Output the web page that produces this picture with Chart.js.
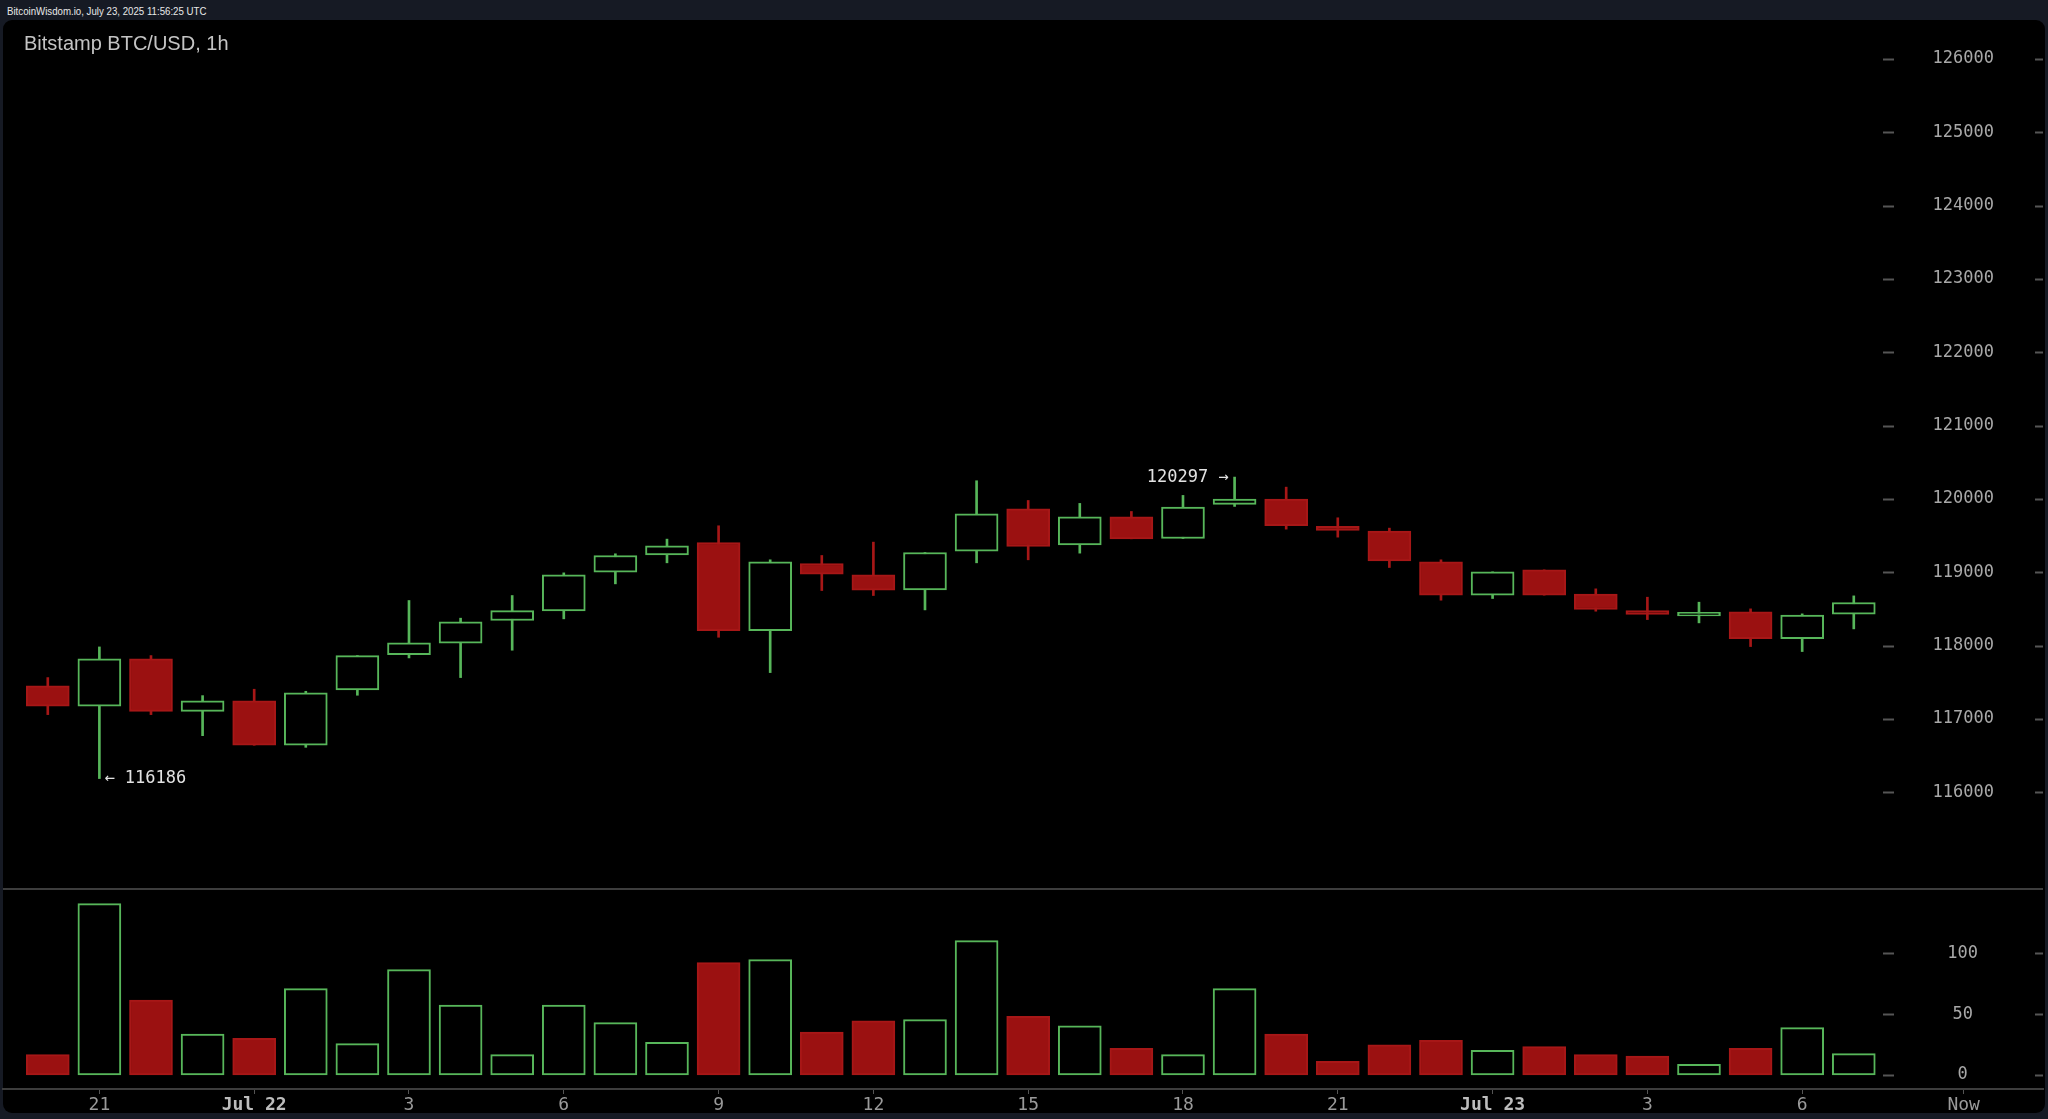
<!DOCTYPE html>
<html>
<head>
<meta charset="utf-8">
<script src="https://cdn.jsdelivr.net/npm/chart.js@4.4.1/dist/chart.umd.min.js"></script>
<style>
  html, body { margin: 0; padding: 0; }
  body { width: 2048px; height: 1119px; overflow: hidden; background: #161a24; position: relative; }
  #topbar { position: absolute; left: 7px; top: 4px; font: 11px "Liberation Sans", Arial, sans-serif; color: #e8e8e8; line-height: 15px; transform: scaleX(0.88); transform-origin: 0 0; white-space: nowrap; }
  #panel { position: absolute; left: 3px; top: 20px; width: 2042px; height: 1093px; background: #000; border-radius: 9px; }
  #title { position: absolute; left: 24px; top: 32px; font: 20px "Liberation Sans", Arial, sans-serif; color: #c4c4c4; line-height: 22px; }
  #c { position: absolute; left: 0; top: 0; }
</style>
</head>
<body>
<div id="topbar">BitcoinWisdom.io, July 23, 2025 11:56:25 UTC</div>
<div id="panel"></div>
<canvas id="c" width="2048" height="1119"></canvas>
<div id="title">Bitstamp BTC/USD, 1h</div>
<script>
// hourly candles, Jul 21 20:00 -> Jul 23 07:00
const opens  = [117449, 117172, 117818, 117103, 117245, 116640, 117395, 117877, 118031, 118341, 118473, 119000,
                119237, 119405, 118204, 119119, 118964, 118759, 119287, 119865, 119373, 119756, 119460, 119924,
                119997, 119624, 119560, 119141, 118687, 119032, 118700, 118477, 118404, 118459, 118095, 118427];
const highs  = [117563, 117981, 117863, 117317, 117404, 117376, 117863, 118614, 118373, 118682, 118991, 119251,
                119451, 119633, 119169, 119228, 119410, 119269, 120247, 119978, 119938, 119828, 120047, 120297,
                120160, 119742, 119601, 119169, 119005, 119032, 118773, 118659, 118591, 118500, 118432, 118677];
const lows   = [117058, 116186, 117058, 116771, 116640, 116612, 117322, 117831, 117563, 117936, 118364, 118841,
                119128, 118113, 117631, 118750, 118682, 118486, 119128, 119169, 119260, 119455, 119460, 119897,
                119587, 119478, 119064, 118618, 118641, 118687, 118468, 118354, 118309, 117986, 117918, 118227];
const closes = [117172, 117818, 117103, 117245, 116640, 117354, 117863, 118036, 118323, 118477, 118964, 119228,
                119360, 118204, 119141, 118973, 118755, 119269, 119797, 119351, 119756, 119455, 119887, 119997,
                119633, 119569, 119155, 118687, 119005, 118687, 118491, 118423, 118454, 118095, 118414, 118587];
const volumes = [16.7, 140.8, 61.6, 33.7, 30.1, 71, 25.8, 86.6, 57.5, 16.7, 57.5, 43,
                 26.8, 92.3, 94.8, 35.3, 44.4, 45.5, 110.4, 48.2, 40.3, 21.9, 16.7, 71,
                 33.7, 11.2, 24.7, 28.5, 20.3, 23.3, 16.7, 15.6, 8.8, 21.9, 38.9, 17.5];

const xTickPos    = [1, 4, 7, 10, 13, 16, 19, 22, 25, 28, 31, 34, 37.13];
const xTickLabels = ['21', 'Jul 22', '3', '6', '9', '12', '15', '18', '21', 'Jul 23', '3', '6', 'Now'];
const priceTicks  = [116000, 117000, 118000, 119000, 120000, 121000, 122000, 123000, 124000, 125000, 126000];
const volumeTicks = [0, 50, 100];

const GREEN = '#57b65a';
const RED = '#9b1111';
const RED_EDGE = '#a71717';
const MONO = '"DejaVu Sans Mono", monospace';

const isUp = i => closes[i] >= opens[i];

const decor = {
  id: 'decor',
  afterDatasetsDraw(chart) {
    const {ctx, chartArea} = chart;
    const sx = chart.scales.x, sy = chart.scales.y, sv = chart.scales.yv;
    ctx.save();
    // price / volume separator
    ctx.strokeStyle = '#3d3d3d';
    ctx.lineWidth = 2;
    ctx.beginPath();
    ctx.moveTo(chartArea.left, sv.top);
    ctx.lineTo(chartArea.right, sv.top);
    ctx.stroke();
    // small tick dashes beside the value labels
    ctx.strokeStyle = '#555';
    ctx.lineWidth = 2;
    [sy, sv].forEach(s => s.ticks.forEach(t => {
      const py = Math.round(s.getPixelForValue(t.value)) + 0.5;
      ctx.beginPath();
      ctx.moveTo(chartArea.right - 160, py); ctx.lineTo(chartArea.right - 149, py);
      ctx.moveTo(chartArea.right - 8, py); ctx.lineTo(chartArea.right, py);
      ctx.stroke();
    }));
    // lowest low / highest high markers
    let iLo = 0, iHi = 0;
    lows.forEach((v, i) => { if (v < lows[iLo]) iLo = i; });
    highs.forEach((v, i) => { if (v > highs[iHi]) iHi = i; });
    ctx.fillStyle = '#e2e2e2';
    ctx.font = '17px ' + MONO;
    ctx.textBaseline = 'middle';
    ctx.textAlign = 'left';
    ctx.fillText('\u2190 ' + lows[iLo], sx.getPixelForValue(iLo) + 5, sy.getPixelForValue(lows[iLo]));
    ctx.textAlign = 'right';
    ctx.fillText(highs[iHi] + ' \u2192', sx.getPixelForValue(iHi) - 6, sy.getPixelForValue(highs[iHi]));
    ctx.restore();
  }
};

const candleFill = c => isUp(c.dataIndex) ? '#000' : RED;
const candleEdge = c => isUp(c.dataIndex) ? GREEN : RED_EDGE;
const wickColor = c => isUp(c.dataIndex) ? GREEN : RED_EDGE;

new Chart(document.getElementById('c'), {
  type: 'bar',
  data: {
    datasets: [
      {
        label: 'body',
        yAxisID: 'y',
        order: 0,
        data: opens.map((o, i) => ({x: i, y: [o, closes[i]]})),
        backgroundColor: candleFill,
        borderColor: candleEdge,
        borderWidth: 2,
        borderSkipped: false,
        barThickness: 43,
        grouped: false
      },
      {
        label: 'wick',
        yAxisID: 'y',
        order: 1,
        data: lows.map((l, i) => ({x: i, y: [l, highs[i]]})),
        backgroundColor: wickColor,
        borderWidth: 0,
        barThickness: 2,
        grouped: false
      },
      {
        label: 'volume',
        yAxisID: 'yv',
        order: 2,
        data: volumes.map((v, i) => ({x: i, y: v})),
        backgroundColor: candleFill,
        borderColor: candleEdge,
        borderWidth: 2,
        borderSkipped: false,
        barThickness: 43,
        grouped: false
      }
    ]
  },
  options: {
    responsive: false,
    animation: false,
    events: [],
    layout: { padding: { top: 20, left: 3, right: 5, bottom: 4 } },
    plugins: { legend: { display: false }, tooltip: { enabled: false }, title: { display: false } },
    scales: {
      x: {
        type: 'linear',
        offset: false,
        min: -0.868,
        max: 38.667,
        afterBuildTicks: s => { s.ticks = xTickPos.map(v => ({value: v})); },
        afterFit: s => { s.height = 26; },
        grid: { display: true, drawOnChartArea: false, drawTicks: true, tickLength: 5, color: '#555', offset: false },
        border: { display: true, color: '#3d3d3d', width: 2 },
        ticks: {
          autoSkip: false,
          maxRotation: 0,
          padding: 1,
          callback: (v, i) => xTickLabels[i],
          color: c => xTickLabels[c.index] && xTickLabels[c.index].startsWith('Jul') ? '#bdbdbd' : '#9a9a9a',
          font: c => ({ family: MONO, size: 18, weight: xTickLabels[c.index] && xTickLabels[c.index].startsWith('Jul') ? 'bold' : 'normal' })
        }
      },
      y: {
        type: 'linear',
        position: 'right',
        stack: 'panes',
        stackWeight: 869,
        min: 114680,
        max: 126530,
        afterBuildTicks: s => { s.ticks = priceTicks.map(v => ({value: v})); },
        grid: { display: false, drawTicks: false },
        border: { display: false },
        ticks: {
          mirror: true,
          crossAlign: 'center',
          padding: -49,
          color: '#a8a8a8',
          font: { family: MONO, size: 17 },
          callback: v => String(v)
        }
      },
      yv: {
        type: 'linear',
        position: 'right',
        stack: 'panes',
        stackWeight: 200,
        min: -11.5,
        max: 152.8,
        afterBuildTicks: s => { s.ticks = volumeTicks.map(v => ({value: v})); },
        grid: { display: false, drawTicks: false },
        border: { display: false },
        ticks: {
          mirror: true,
          crossAlign: 'center',
          padding: -65,
          color: '#a8a8a8',
          font: { family: MONO, size: 17 },
          callback: v => String(v)
        }
      }
    }
  },
  plugins: [decor]
});
</script>
</body>
</html>
